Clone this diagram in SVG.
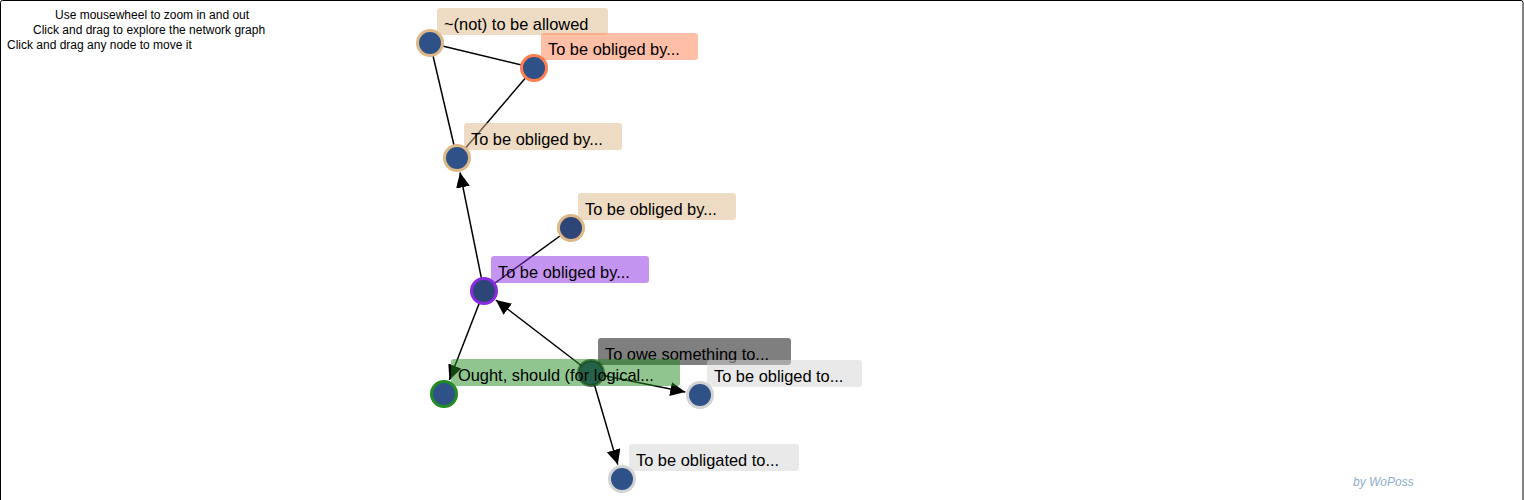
<svg xmlns="http://www.w3.org/2000/svg" width="1524" height="500" viewBox="0 0 1524 500">
<style>
.info{font-family:"Liberation Sans",Arial,sans-serif;font-size:12px;fill:#000}
.lbl{font-family:"Liberation Sans",Arial,sans-serif;font-size:16.4px;fill:#000}
.link{stroke:#000;stroke-width:1.5;fill:none}
.node circle{stroke-width:3}
.node rect{opacity:0.5}
.blue{fill:#2e5288}
.navy{fill:#2d4577}
</style>
<defs>
<marker id="arr" markerUnits="userSpaceOnUse" markerWidth="16" markerHeight="16" refX="15" refY="7" orient="auto">
<path d="M0,0 L15,7 L0,14 Z" fill="#000"/>
</marker>
</defs>
<rect x="0.5" y="0.5" width="1522.5" height="520" rx="2" fill="#fff" stroke="#000" stroke-width="1"/>
<text class="info" x="55" y="19">Use mousewheel to zoom in and out</text>
<text class="info" x="33" y="34">Click and drag to explore the network graph</text>
<text class="info" x="7" y="49">Click and drag any node to move it</text>
<text x="1353" y="486" font-family="'Liberation Sans',Arial,sans-serif" font-size="12" font-style="italic" fill="#8eaed3">by WoPoss</text>
<g id="links">
<line class="link" x1="430" y1="43" x2="534" y2="68"/>
<line class="link" x1="430" y1="43" x2="457" y2="158"/>
<line class="link" x1="534" y1="68" x2="457" y2="158"/>
<line class="link" x1="571" y1="228" x2="484" y2="291"/>
<line class="link" x1="484" y1="291" x2="460" y2="172.5" marker-end="url(#arr)"/>
<line class="link" x1="484" y1="291" x2="449.4" y2="380" marker-end="url(#arr)"/>
<line class="link" x1="591" y1="373" x2="495.9" y2="300.1" marker-end="url(#arr)"/>
<line class="link" x1="591" y1="373" x2="685.3" y2="392" marker-end="url(#arr)"/>
<line class="link" x1="591" y1="373" x2="617.8" y2="464.6" marker-end="url(#arr)"/>
</g>
<g id="n1" class="node">
<circle class="blue" cx="430" cy="43" r="12.5" stroke="#deb887"/>
<rect x="437" y="8" width="171" height="27" rx="3" fill="#deb887"/>
<text class="lbl" x="444" y="30">~(not) to be allowed</text>
</g>
<g id="n2" class="node">
<circle class="blue" cx="534" cy="68" r="12.5" stroke="#ff7f50"/>
<rect x="541" y="33" width="157" height="27" rx="3" fill="#ff7f50"/>
<text class="lbl" x="548" y="55">To be obliged by...</text>
</g>
<g id="n3" class="node">
<circle class="blue" cx="457" cy="158" r="12.5" stroke="#deb887"/>
<rect x="464" y="123" width="158" height="27" rx="3" fill="#deb887"/>
<text class="lbl" x="471" y="145">To be obliged by...</text>
</g>
<g id="n4" class="node">
<circle class="navy" cx="571" cy="228" r="12.5" stroke="#deb887"/>
<rect x="578" y="193" width="158" height="27" rx="3" fill="#deb887"/>
<text class="lbl" x="585" y="215">To be obliged by...</text>
</g>
<g id="n5" class="node">
<circle class="navy" cx="484" cy="291" r="12.5" stroke="#8a2be2"/>
<rect x="491" y="256" width="158" height="27" rx="3" fill="#8a2be2"/>
<text class="lbl" x="498" y="278">To be obliged by...</text>
</g>
<g id="n6" class="node">
<circle cx="591" cy="373" r="12.5" fill="#263a70" stroke="#000" stroke-opacity="0.6"/>
<rect x="598" y="338" width="193" height="27" rx="3" fill="#000"/>
<text class="lbl" x="605" y="360">To owe something to...</text>
</g>
<g id="n7" class="node">
<circle class="blue" cx="444" cy="394" r="12.5" stroke="#228b22"/>
<rect x="451" y="359" width="229" height="27" rx="3" fill="#228b22"/>
<text class="lbl" x="458" y="381">Ought, should (for logical...</text>
</g>
<g id="n8" class="node">
<circle class="blue" cx="700" cy="395" r="12.5" stroke="#d3d3d3"/>
<rect x="707" y="360" width="155" height="27" rx="3" fill="#d3d3d3"/>
<text class="lbl" x="714" y="382">To be obliged to...</text>
</g>
<g id="n9" class="node">
<circle class="blue" cx="622" cy="479" r="12.5" stroke="#d3d3d3"/>
<rect x="629" y="444" width="170" height="27" rx="3" fill="#d3d3d3"/>
<text class="lbl" x="636" y="466">To be obligated to...</text>
</g>
</svg>
